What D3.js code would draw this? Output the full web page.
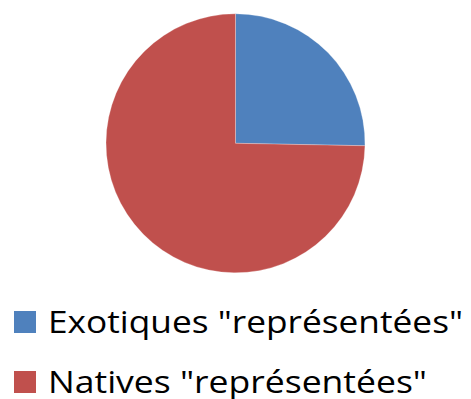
<!DOCTYPE html>
<html>
<head>
<meta charset="utf-8">
<script src="https://cdn.jsdelivr.net/npm/d3@7/dist/d3.min.js"></script>
<style>
  html, body { margin: 0; padding: 0; background: #fff; }
  svg { display: block; }
</style>
</head>
<body>
<svg id="chart" width="471" height="399"></svg>
<script>
// Share of represented species by origin
const categories = ['Exotiques "représentées"', 'Natives "représentées"'];
const values = [25.3, 74.7];
const colors = ["#4F81BD", "#C0504D"];

const svg = d3.select("#chart");
const cx = 235.5, cy = 143.3, radius = 129.5;

const pie = d3.pie().sort(null).value(d => d.value);
const arc = d3.arc().innerRadius(0).outerRadius(radius);
const data = categories.map((c, i) => ({ name: c, value: values[i] }));
const color = d3.scaleOrdinal().domain(categories).range(colors);

svg.append("g")
  .attr("transform", `translate(${cx},${cy})`)
  .selectAll("path")
  .data(pie(data))
  .join("path")
  .attr("d", arc)
  .attr("fill", d => color(d.data.name))
  .attr("stroke", "#ffffff")
  .attr("stroke-opacity", 0.35)
  .attr("stroke-width", 0.75);

// Legend
const legend = svg.append("g");
const rows = legend.selectAll("g")
  .data(categories)
  .join("g")
  .attr("transform", (d, i) => `translate(14,${311 + i * 60})`);

rows.append("rect")
  .attr("width", 22).attr("height", 22)
  .attr("fill", d => color(d));

const widths = [415, 379];
rows.append("text")
  .attr("x", 34).attr("y", 22)
  .attr("font-family", "Open Sans, sans-serif")
  .attr("font-size", 31.5)
  .attr("fill", "#000")
  .attr("textLength", (d, i) => widths[i])
  .attr("lengthAdjust", "spacingAndGlyphs")
  .text(d => d);
</script>
</body>
</html>
